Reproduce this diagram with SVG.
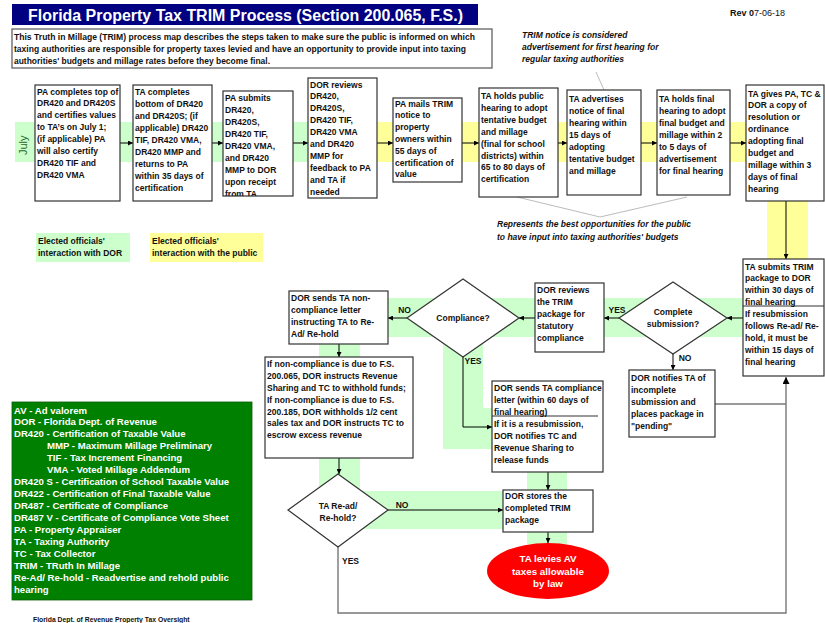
<svg xmlns="http://www.w3.org/2000/svg" width="825" height="623" viewBox="0 0 825 623">
<style>
.box{fill:#fff;stroke:#333;stroke-width:1.2}
.t{font-family:"Liberation Sans",Arial,sans-serif;font-size:8.5px;font-weight:bold;fill:#111}
.it{font-style:italic}
.w{fill:#fff}
.c{text-anchor:middle}
.ln{stroke:#000;stroke-width:1;fill:none}
.gy{stroke:#777;stroke-width:1.4;fill:none}
.gl{stroke:#aaa;stroke-width:0.8;fill:none}
.bg{fill:#ccffcc}
.by{fill:#ffff99}
</style>
<defs>
<marker id="ah" viewBox="0 0 10 10" refX="10" refY="5" markerWidth="5" markerHeight="5" orient="auto"><path d="M0,0 L10,5 L0,10 z" fill="#000"/></marker>
<clipPath id="c3"><rect x="223" y="91" width="70" height="105"/></clipPath>
</defs>
<rect width="825" height="623" fill="#fff"/>

<!-- bands -->
<g id="bands">
<rect class="bg" x="15" y="122" width="325" height="40"/>
<rect class="by" x="340" y="122" width="483" height="40"/>
<rect class="by" x="767" y="200" width="41" height="60"/>
<rect class="bg" x="387" y="298" width="356" height="39"/>
<rect class="bg" x="443" y="337" width="40" height="112"/>
<rect class="bg" x="443" y="408" width="49" height="41"/>
<rect class="bg" x="319" y="344" width="41" height="150"/>
<rect class="bg" x="360" y="491" width="143" height="38"/>
<rect class="bg" x="527" y="472" width="40" height="72"/>
</g>

<!-- header -->
<g id="title">
<rect x="12" y="4" width="466" height="21" fill="#000080"/>
<text class="t w" x="28" y="20.5" style="font-size:16px" textLength="435" lengthAdjust="spacingAndGlyphs">Florida Property Tax TRIM Process (Section 200.065, F.S.)</text>
</g>
<text id="rev" class="t" x="730" y="15.5" style="font-size:9px">Rev 0<tspan font-weight="normal">7-06-18</tspan></text>
<g id="intro">
<rect x="12" y="29" width="480" height="39" fill="#fff" stroke="#555" stroke-width="1.2"/>
<text class="t" x="14" y="40" textLength="461" lengthAdjust="spacingAndGlyphs">This Truth in Millage (TRIM) process map describes the steps taken to make sure the public is informed on which</text>
<text class="t" x="14" y="52" textLength="452" lengthAdjust="spacingAndGlyphs">taxing authorities are responsible for property taxes levied and have an opportunity to provide input into taxing</text>
<text class="t" x="14" y="63.5" textLength="256" lengthAdjust="spacingAndGlyphs">authorities' budgets and millage rates before they become final.</text>
</g>
<g id="note1">
<text class="t it" x="522" y="38"><tspan x="522">TRIM notice is considered</tspan><tspan x="522" dy="12">advertisement for first hearing for</tspan><tspan x="522" dy="12">regular taxing authorities</tspan></text>
</g>
<text id="july" class="t" transform="translate(27,155) rotate(-90)" style="font-size:11px;font-weight:normal;fill:#2a662a">July</text>

<!-- connectors -->
<g id="connectors">
<line class="ln" x1="120" y1="143" x2="133" y2="143" marker-end="url(#ah)"/>
<line class="ln" x1="212" y1="143" x2="223" y2="143" marker-end="url(#ah)"/>
<line class="ln" x1="293" y1="143" x2="308" y2="143" marker-end="url(#ah)"/>
<line class="ln" x1="377" y1="143" x2="393" y2="143" marker-end="url(#ah)"/>
<line class="ln" x1="462" y1="143" x2="479" y2="143" marker-end="url(#ah)"/>
<line class="ln" x1="558" y1="143" x2="567" y2="143" marker-end="url(#ah)"/>
<line class="ln" x1="641" y1="143" x2="657" y2="143" marker-end="url(#ah)"/>
<line class="ln" x1="730" y1="143" x2="746" y2="143" marker-end="url(#ah)"/>
<line class="ln" x1="786" y1="201" x2="786" y2="259" marker-end="url(#ah)"/>
<line class="ln" x1="743" y1="318" x2="727" y2="318" marker-end="url(#ah)"/>
<line class="ln" x1="619" y1="318" x2="604" y2="318" marker-end="url(#ah)"/>
<line class="ln" x1="535" y1="318" x2="519" y2="318" marker-end="url(#ah)"/>
<line class="ln" x1="407" y1="318" x2="388" y2="318" marker-end="url(#ah)"/>
<line class="ln" x1="339" y1="344" x2="339" y2="357" marker-end="url(#ah)"/>
<line class="ln" x1="339" y1="458" x2="339" y2="474" marker-end="url(#ah)"/>
<line class="ln" x1="388" y1="510" x2="503" y2="510" marker-end="url(#ah)"/>
<polyline class="ln" points="463,357 463,427 492,427" marker-end="url(#ah)"/>
<line class="ln" x1="673" y1="354" x2="673" y2="370" marker-end="url(#ah)"/>
<line class="ln" x1="548" y1="472" x2="548" y2="490" marker-end="url(#ah)"/>
<line class="ln" x1="548" y1="532" x2="548" y2="543" marker-end="url(#ah)"/>
<polyline class="gy" points="338,547 338,613 786,613 786,377" marker-end="url(#ah)"/>
<line class="gy" x1="715" y1="404" x2="786" y2="404"/>
<line class="gl" x1="596" y1="72" x2="604" y2="90"/>
<polyline class="gl" points="517,197 600,217 687,197"/>
<g class="t">
<text x="404.5" y="313" class="t c">NO</text>
<text x="617" y="313" class="t c">YES</text>
<text x="473" y="364" class="t c">YES</text>
<text x="685" y="361" class="t c">NO</text>
<text x="402" y="508" class="t c">NO</text>
<text x="350.5" y="564" class="t c">YES</text>
</g>
</g>

<!-- top row nodes -->
<g id="n1"><rect class="box" x="35" y="85" width="85" height="116"/>
<text class="t" y="94.5"><tspan x="37">PA completes top of</tspan><tspan x="37" dy="11.9">DR420 and DR420S</tspan><tspan x="37" dy="11.9">and certifies values</tspan><tspan x="37" dy="11.9">to TA’s on July 1;</tspan><tspan x="37" dy="11.9">(if applicable) PA</tspan><tspan x="37" dy="11.9">will also certify</tspan><tspan x="37" dy="11.9">DR420 TIF and</tspan><tspan x="37" dy="11.9">DR420 VMA</tspan></text></g>
<g id="n2"><rect class="box" x="133" y="85" width="79" height="116"/>
<text class="t" y="95"><tspan x="135">TA completes</tspan><tspan x="135" dy="12">bottom of DR420</tspan><tspan x="135" dy="12">and DR420S; (if</tspan><tspan x="135" dy="12">applicable) DR420</tspan><tspan x="135" dy="12">TIF, DR420 VMA,</tspan><tspan x="135" dy="12">DR420 MMP and</tspan><tspan x="135" dy="12">returns to PA</tspan><tspan x="135" dy="12">within 35 days of</tspan><tspan x="135" dy="12">certification</tspan></text></g>
<g id="n3"><rect class="box" x="223" y="91" width="70" height="105"/>
<text class="t" y="101" clip-path="url(#c3)"><tspan x="225">PA submits</tspan><tspan x="225" dy="12">DR420,</tspan><tspan x="225" dy="12">DR420S,</tspan><tspan x="225" dy="12">DR420 TIF,</tspan><tspan x="225" dy="12">DR420 VMA,</tspan><tspan x="225" dy="12">and DR420</tspan><tspan x="225" dy="12">MMP to DOR</tspan><tspan x="225" dy="12">upon receipt</tspan><tspan x="225" dy="12">from TA</tspan></text></g>
<g id="n4"><rect class="box" x="308" y="78" width="69" height="120"/>
<text class="t" y="87.5"><tspan x="310">DOR reviews</tspan><tspan x="310" dy="11.93">DR420,</tspan><tspan x="310" dy="11.93">DR420S,</tspan><tspan x="310" dy="11.93">DR420 TIF,</tspan><tspan x="310" dy="11.93">DR420 VMA</tspan><tspan x="310" dy="11.93">and DR420</tspan><tspan x="310" dy="11.93">MMP for</tspan><tspan x="310" dy="11.93">feedback to PA</tspan><tspan x="310" dy="11.93">and TA if</tspan><tspan x="310" dy="11.93">needed</tspan></text></g>
<g id="n5"><rect class="box" x="393" y="98" width="69" height="84"/>
<text class="t" y="106.5"><tspan x="395">PA mails TRIM</tspan><tspan x="395" dy="11.83">notice to</tspan><tspan x="395" dy="11.83">property</tspan><tspan x="395" dy="11.83">owners within</tspan><tspan x="395" dy="11.83">55 days of</tspan><tspan x="395" dy="11.83">certification of</tspan><tspan x="395" dy="11.83">value</tspan></text></g>
<g id="n6"><rect class="box" x="479" y="88" width="79" height="109"/>
<text class="t" y="99"><tspan x="481">TA holds public</tspan><tspan x="481" dy="11.9">hearing to adopt</tspan><tspan x="481" dy="11.9">tentative budget</tspan><tspan x="481" dy="11.9">and millage</tspan><tspan x="481" dy="11.9">(final for school</tspan><tspan x="481" dy="11.9">districts) within</tspan><tspan x="481" dy="11.9">65 to 80 days of</tspan><tspan x="481" dy="11.9">certification</tspan></text></g>
<g id="n7"><rect class="box" x="567" y="90" width="74" height="105"/>
<text class="t" y="102"><tspan x="569">TA advertises</tspan><tspan x="569" dy="12">notice of final</tspan><tspan x="569" dy="12">hearing within</tspan><tspan x="569" dy="12">15 days of</tspan><tspan x="569" dy="12">adopting</tspan><tspan x="569" dy="12">tentative budget</tspan><tspan x="569" dy="12">and millage</tspan></text></g>
<g id="n8"><rect class="box" x="657" y="90" width="73" height="105"/>
<text class="t" y="102"><tspan x="659">TA holds final</tspan><tspan x="659" dy="12">hearing to adopt</tspan><tspan x="659" dy="12">final budget and</tspan><tspan x="659" dy="12">millage within 2</tspan><tspan x="659" dy="12">to 5 days of</tspan><tspan x="659" dy="12">advertisement</tspan><tspan x="659" dy="12">for final hearing</tspan></text></g>
<g id="n9"><rect class="box" x="746" y="85" width="78" height="116"/>
<text class="t" y="96.5"><tspan x="748">TA gives PA, TC &amp;</tspan><tspan x="748" dy="11.9">DOR a copy of</tspan><tspan x="748" dy="11.9">resolution or</tspan><tspan x="748" dy="11.9">ordinance</tspan><tspan x="748" dy="11.9">adopting final</tspan><tspan x="748" dy="11.9">budget and</tspan><tspan x="748" dy="11.9">millage within 3</tspan><tspan x="748" dy="11.9">days of final</tspan><tspan x="748" dy="11.9">hearing</tspan></text></g>

<g id="note2">
<text class="t it" y="227"><tspan x="497">Represents the best opportunities for the public</tspan><tspan x="497" dy="13">to have input into taxing authorities' budgets</tspan></text>
</g>
<g id="legend-dor"><rect class="bg" x="36" y="233" width="94" height="29"/>
<text class="t" y="243.5"><tspan x="38">Elected officials'</tspan><tspan x="38" dy="12">interaction with DOR</tspan></text></g>
<g id="legend-public"><rect class="by" x="150" y="233" width="113" height="29"/>
<text class="t" y="243.5"><tspan x="152">Elected officials'</tspan><tspan x="152" dy="12">interaction with the public</tspan></text></g>

<!-- lower nodes -->
<g id="n10"><rect class="box" x="743" y="259" width="81" height="117"/>
<line x1="743" y1="306" x2="824" y2="306" stroke="#333" stroke-width="1.2"/>
<text class="t" y="269.5"><tspan x="745">TA submits TRIM</tspan><tspan x="745" dy="11.8">package to DOR</tspan><tspan x="745" dy="11.8">within 30 days of</tspan><tspan x="745" dy="11.8">final hearing</tspan></text>
<text class="t" y="317"><tspan x="745">If resubmission</tspan><tspan x="745" dy="12">follows Re-ad/ Re-</tspan><tspan x="745" dy="12">hold, it must be</tspan><tspan x="745" dy="12">within 15 days of</tspan><tspan x="745" dy="12">final hearing</tspan></text></g>
<g id="n11"><polygon class="box" points="619,318 673,282 727,318 673,354"/>
<text class="t c" x="673" y="315"><tspan x="673">Complete</tspan><tspan x="673" dy="12">submission?</tspan></text></g>
<g id="n12"><rect class="box" x="535" y="283" width="69" height="69"/>
<text class="t" y="292.5"><tspan x="537">DOR reviews</tspan><tspan x="537" dy="12">the TRIM</tspan><tspan x="537" dy="12">package for</tspan><tspan x="537" dy="12">statutory</tspan><tspan x="537" dy="12">compliance</tspan></text></g>
<g id="n13"><polygon class="box" points="407,318 463,279 519,318 463,357"/>
<text class="t c" x="463" y="321">Compliance?</text></g>
<g id="n14"><rect class="box" x="289" y="291" width="99" height="53"/>
<text class="t" y="300.5"><tspan x="291">DOR sends TA non-</tspan><tspan x="291" dy="12">compliance letter</tspan><tspan x="291" dy="12">instructing TA to Re-</tspan><tspan x="291" dy="12">Ad/ Re-hold</tspan></text></g>
<g id="n15"><rect class="box" x="265" y="357" width="148" height="101"/>
<text class="t" y="367.3"><tspan x="267">If non-compliance is due to F.S.</tspan><tspan x="267" dy="11.8">200.065, DOR instructs Revenue</tspan><tspan x="267" dy="11.8">Sharing and TC to withhold funds;</tspan><tspan x="267" dy="11.8">If non-compliance is due to F.S.</tspan><tspan x="267" dy="11.8">200.185, DOR withholds 1/2 cent</tspan><tspan x="267" dy="11.8">sales tax and DOR instructs TC to</tspan><tspan x="267" dy="11.8">escrow excess revenue</tspan></text></g>
<g id="n16"><polygon class="box" points="288,510 338,474 388,510 338,547"/>
<text class="t c" x="338" y="508.5"><tspan x="338">TA Re-ad/</tspan><tspan x="338" dy="12">Re-hold?</tspan></text></g>
<g id="n17"><rect class="box" x="492" y="381" width="111" height="91"/>
<line x1="492" y1="416" x2="598" y2="416" stroke="#333" stroke-width="1.2"/>
<text class="t" y="390.5"><tspan x="494">DOR sends TA compliance</tspan><tspan x="494" dy="12">letter (within 60 days of</tspan><tspan x="494" dy="12">final hearing)</tspan></text>
<text class="t" y="426.5"><tspan x="494">If it is a resubmission,</tspan><tspan x="494" dy="12">DOR notifies TC and</tspan><tspan x="494" dy="12">Revenue Sharing to</tspan><tspan x="494" dy="12">release funds</tspan></text></g>
<g id="n18"><rect class="box" x="629" y="370" width="86" height="67"/>
<text class="t" y="380.5"><tspan x="631">DOR notifies TA of</tspan><tspan x="631" dy="12">incomplete</tspan><tspan x="631" dy="12">submission and</tspan><tspan x="631" dy="12">places package in</tspan><tspan x="631" dy="12">"pending"</tspan></text></g>
<g id="n19"><rect class="box" x="503" y="490" width="90" height="42"/>
<text class="t" y="499"><tspan x="505">DOR stores the</tspan><tspan x="505" dy="12">completed TRIM</tspan><tspan x="505" dy="12">package</tspan></text></g>
<g id="n20"><ellipse cx="548" cy="571" rx="61" ry="28" fill="#ff0000"/>
<text class="t c w" x="548" y="562" style="font-size:9.8px"><tspan x="548">TA levies AV</tspan><tspan x="548" dy="12.5">taxes allowable</tspan><tspan x="548" dy="12.5">by law</tspan></text></g>

<!-- glossary -->
<g id="glossary"><rect x="12" y="402" width="240" height="198" fill="#008000" stroke="#0a5a0a" stroke-width="0.8"/>
<text class="t w" y="413.5" style="font-size:9.6px"><tspan x="14">AV - Ad valorem</tspan><tspan x="14" dy="11.95">DOR - Florida Dept. of Revenue</tspan><tspan x="14" dy="11.95">DR420 - Certification of Taxable Value</tspan><tspan x="47" dy="11.95">MMP - Maximum Millage Preliminary</tspan><tspan x="47" dy="11.95">TIF - Tax Increment Financing</tspan><tspan x="47" dy="11.95">VMA - Voted Millage Addendum</tspan><tspan x="14" dy="11.95">DR420 S - Certification of School Taxable Value</tspan><tspan x="14" dy="11.95">DR422 - Certification of Final Taxable Value</tspan><tspan x="14" dy="11.95">DR487 - Certificate of Compliance</tspan><tspan x="14" dy="11.95">DR487 V - Certificate of Compliance Vote Sheet</tspan><tspan x="14" dy="11.95">PA - Property Appraiser</tspan><tspan x="14" dy="11.95">TA - Taxing Authority</tspan><tspan x="14" dy="11.95">TC - Tax Collector</tspan><tspan x="14" dy="11.95">TRIM - TRuth In Millage</tspan><tspan x="14" dy="11.95">Re-Ad/ Re-hold - Readvertise and rehold public</tspan><tspan x="14" dy="11.95">hearing</tspan></text></g>
<text id="footer" class="t" x="33" y="622" style="font-size:6.8px">Florida Dept. of Revenue Property Tax Oversight</text>
</svg>
